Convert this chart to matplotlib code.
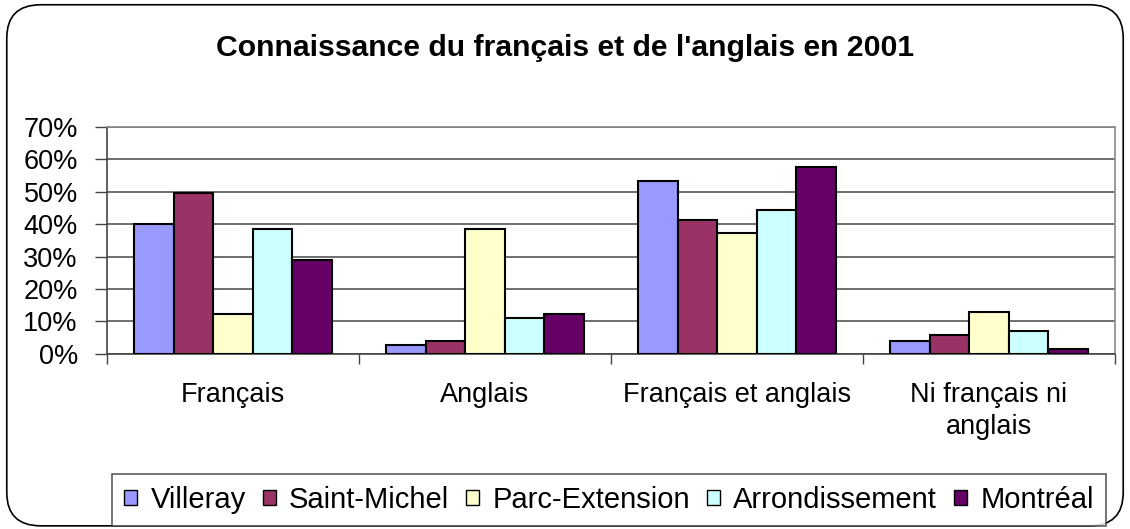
import numpy as np
import matplotlib.pyplot as plt
from matplotlib.patches import FancyBboxPatch
from matplotlib.ticker import FuncFormatter

plt.rcParams['font.family'] = ['Liberation Sans', 'DejaVu Sans']

# data
categories = ["Français", "Anglais", "Français et anglais", "Ni français ni\nanglais"]
series = ["Villeray", "Saint-Michel", "Parc-Extension", "Arrondissement", "Montréal"]
villeray = [40.0, 2.8, 53.4, 4.0]
saint_michel = [49.5, 4.0, 41.3, 5.8]
parc_extension = [12.2, 38.5, 37.2, 12.8]
arrondissement = [38.4, 11.0, 44.3, 7.0]
montreal = [29.1, 12.4, 57.5, 1.6]
colors = ["#9999FF", "#993366", "#FFFFCC", "#CCFFFF", "#660066"]

values = [villeray, saint_michel, parc_extension, arrondissement, montreal]

fig = plt.figure(figsize=(11.3, 5.29), dpi=100)

# rounded border round the whole chart
border = FancyBboxPatch((0.006, 0.006), 0.988, 0.985,
                        boxstyle="round,pad=0,rounding_size=0.03",
                        transform=fig.transFigure, fill=False,
                        edgecolor="black", linewidth=1.2, mutation_aspect=2.1)
fig.patches.append(border)

ax = fig.add_axes([0.0947, 0.331, 0.892, 0.429])

x = np.arange(len(categories))
w = 0.157
for i, (name, vals) in enumerate(zip(series, values)):
    ax.bar(x + (i - 2) * w, vals, width=w, color=colors[i], edgecolor="black",
           linewidth=1.5, label=name, zorder=3)

ax.set_xlim(-0.5, len(categories) - 0.5)
ax.set_ylim(0, 70)
ax.set_yticks(np.arange(0, 71, 10))
ax.yaxis.set_major_formatter(FuncFormatter(lambda v, p: "%d%%" % v))
ax.grid(axis="y", color="#555555", linewidth=1.2, zorder=0)

ax.set_xticks(x)
ax.set_xticklabels(categories, fontsize=19.5, linespacing=1.3)
ax.tick_params(axis="x", length=0, pad=20)
ax.set_xticks(np.arange(-0.5, len(categories), 1), minor=True)
ax.tick_params(axis="x", which="minor", length=7, width=1, color="#444444")
ax.tick_params(axis="y", labelsize=19.5, length=9, width=1, color="#444444", pad=12)

for s in ["top", "right"]:
    ax.spines[s].set_color("#888888")
    ax.spines[s].set_linewidth(1.2)
ax.spines["left"].set_color("#444444")
ax.spines["bottom"].set_color("#444444")
ax.spines["left"].set_linewidth(1.2)
ax.spines["bottom"].set_linewidth(1.2)

fig.text(0.5, 0.909, "Connaissance du français et de l'anglais en 2001",
         ha="center", va="center", fontsize=21.7, fontweight="bold")

leg = fig.legend(loc="center", bbox_to_anchor=(0.539, 0.055), ncol=5,
                 fontsize=21, frameon=True, fancybox=False,
                 handlelength=0.45, handleheight=0.45, handletextpad=0.45,
                 columnspacing=0.58, borderpad=0.42, borderaxespad=0)
leg.get_frame().set_edgecolor("#333333")
leg.get_frame().set_linewidth(1.2)
for h in leg.legend_handles:
    h.set_linewidth(1.0)

fig.savefig("out.png", dpi=100)
